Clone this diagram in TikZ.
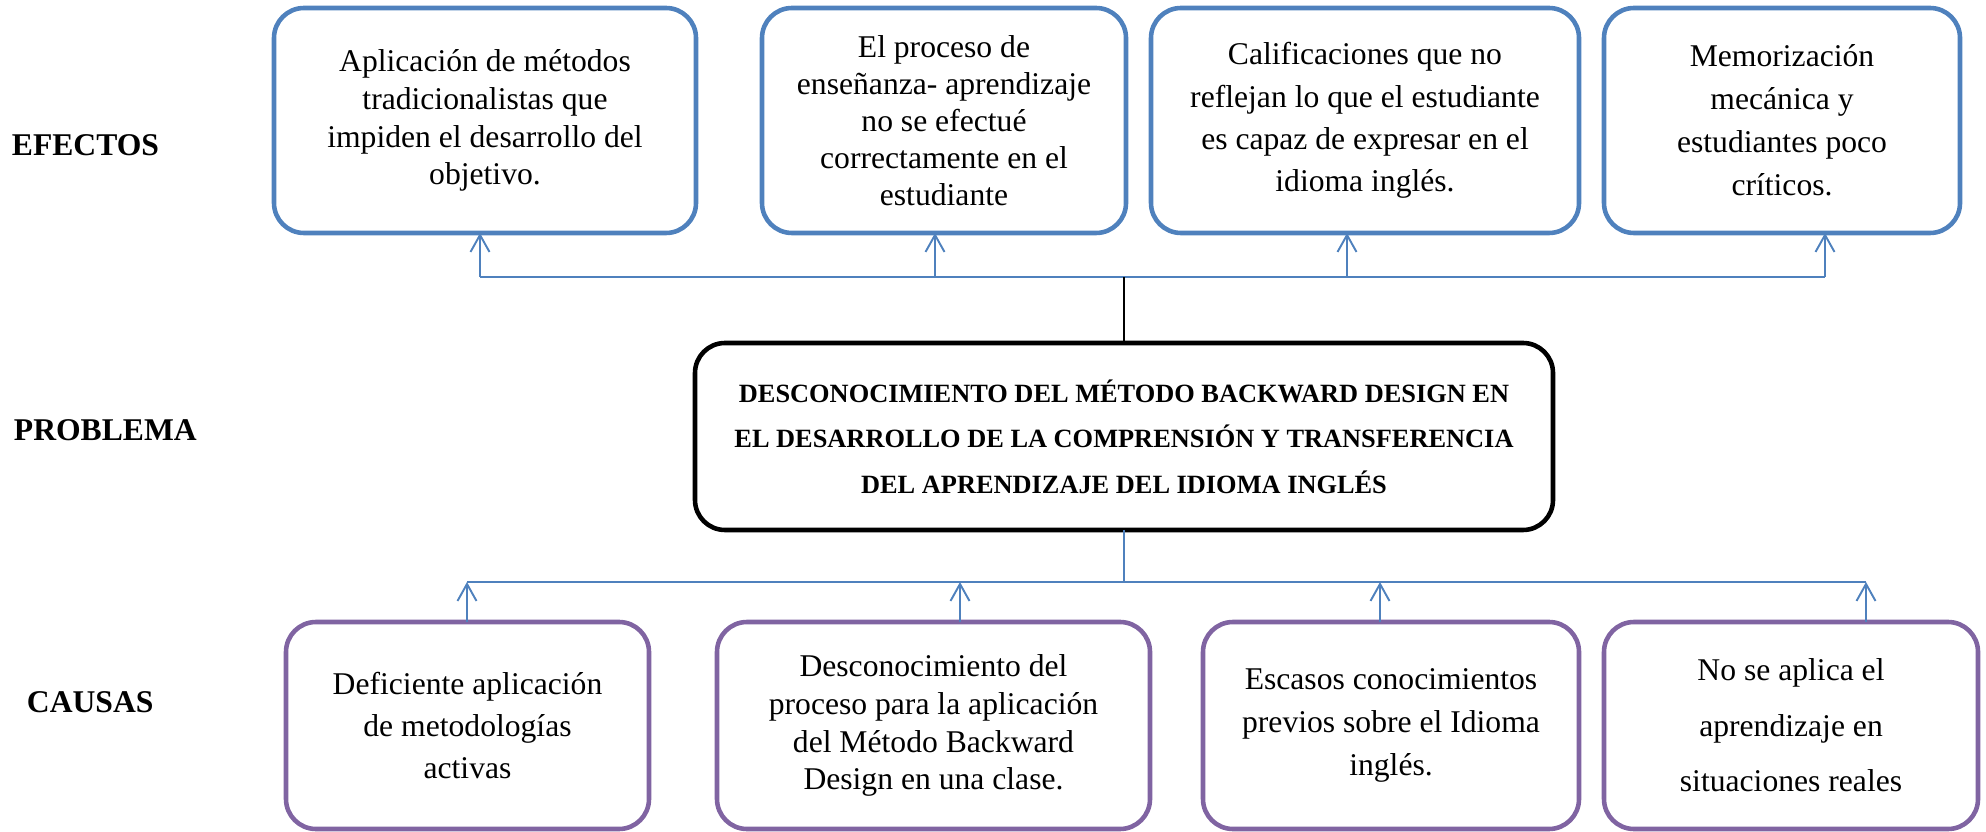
\documentclass[tikz,border=0pt]{standalone}
\usepackage{fontspec}
\setmainfont{Liberation Serif}
\usepackage{tikz}
\usetikzlibrary{positioning, arrows.meta}
\usepackage{xcolor}
\definecolor{azulefecto}{HTML}{4F81BD}
\definecolor{moradocausa}{HTML}{8064A2}

\begin{document}
\begin{tikzpicture}[line width=1.1pt,
    caja/.style={rectangle, rounded corners=0.6cm, line width=2.6pt, align=center, inner sep=0pt, outer sep=0pt},
    efecto/.style={caja, draw=azulefecto, minimum height=4.5cm},
    causa/.style={caja, draw=moradocausa, minimum height=4.14cm},
    txt/.style={font=\fontsize{18}{#1}\selectfont},
    etiqueta/.style={anchor=west, inner sep=0pt, font=\bfseries\fontsize{18}{21}\selectfont},
    bus/.style={draw=azulefecto, line width=1.1pt},
    flecha/.style={bus, -{Straight Barb[length=0.34cm, width=0.38cm]}}]
        \useasboundingbox (0,0) rectangle (39.72,-16.64);
        \node[etiqueta] (efectos) at (0.22,-2.9) {EFECTOS};
        \node[etiqueta] (problema) at (0.26,-8.6) {PROBLEMA};
        \node[etiqueta] (causas) at (0.52,-14.04) {CAUSAS};
        \node[efecto, txt=21.5pt, minimum width=8.44cm] (e1) at (9.7,-2.41) {Aplicación de métodos\\tradicionalistas que\\impiden el desarrollo del\\objetivo.};
        \node[efecto, txt=21pt, minimum width=7.28cm, right=1.32cm of e1] (e2) {El proceso de\\enseñanza- aprendizaje\\no se efectué\\correctamente en el\\estudiante};
        \node[efecto, txt=24pt, minimum width=8.56cm, right=0.5cm of e2] (e3) {Calificaciones que no\\reflejan lo que el estudiante\\es capaz de expresar en el\\idioma inglés.};
        \node[efecto, txt=24.5pt, minimum width=7.12cm, right=0.5cm of e3] (e4) {Memorización\\mecánica y\\estudiantes poco\\críticos.};
        \node[caja, draw=black, minimum width=17.16cm, minimum height=3.74cm, font=\bfseries\fontsize{15}{25.9}\selectfont] (p) at (22.48,-8.73) {DESCONOCIMIENTO DEL MÉTODO BACKWARD DESIGN EN\\EL DESARROLLO DE LA COMPRENSIÓN Y TRANSFERENCIA\\DEL APRENDIZAJE DEL IDIOMA INGLÉS};
        \node[causa, txt=24pt, minimum width=7.26cm] (c1) at (9.35,-14.51) {Deficiente aplicación\\de metodologías\\activas};
        \node[causa, txt=21.6pt, minimum width=8.66cm, right=1.36cm of c1] (c2) {Desconocimiento del\\proceso para la aplicación\\del Método Backward\\Design en una clase.};
        \node[causa, txt=24.5pt, minimum width=7.52cm, right=1.06cm of c2] (c3) {Escasos conocimientos\\previos sobre el Idioma\\inglés.};
        \node[causa, txt=31.6pt, minimum width=7.48cm, right=0.5cm of c3] (c4) {No se aplica el\\aprendizaje en\\situaciones reales};
        \coordinate (eb1) at (9.6,-5.54);
        \coordinate (eb2) at (18.7,-5.54);
        \coordinate (eb3) at (26.94,-5.54);
        \coordinate (eb4) at (36.5,-5.54);
        \coordinate (cb1) at (9.34,-11.64);
        \coordinate (cb2) at (19.2,-11.64);
        \coordinate (cb3) at (27.6,-11.64);
        \coordinate (cb4) at (37.32,-11.64);
        \draw[bus] (eb1) -- (eb4);
        \draw[flecha] (eb1) -- (eb1 |- e1.south);
        \draw[flecha] (eb2) -- (eb2 |- e2.south);
        \draw[flecha] (eb3) -- (eb3 |- e3.south);
        \draw[flecha] (eb4) -- (eb4 |- e4.south);
        \draw[line width=0.9pt] (p.north) -- (p.north |- eb1);
        \draw[bus] (p.south) -- (p.south |- cb1);
        \draw[bus] (cb1) -- (cb4);
        \draw[flecha] (cb1 |- c1.north) -- (cb1);
        \draw[flecha] (cb2 |- c2.north) -- (cb2);
        \draw[flecha] (cb3 |- c3.north) -- (cb3);
        \draw[flecha] (cb4 |- c4.north) -- (cb4);
    \end{tikzpicture}
\end{document}
